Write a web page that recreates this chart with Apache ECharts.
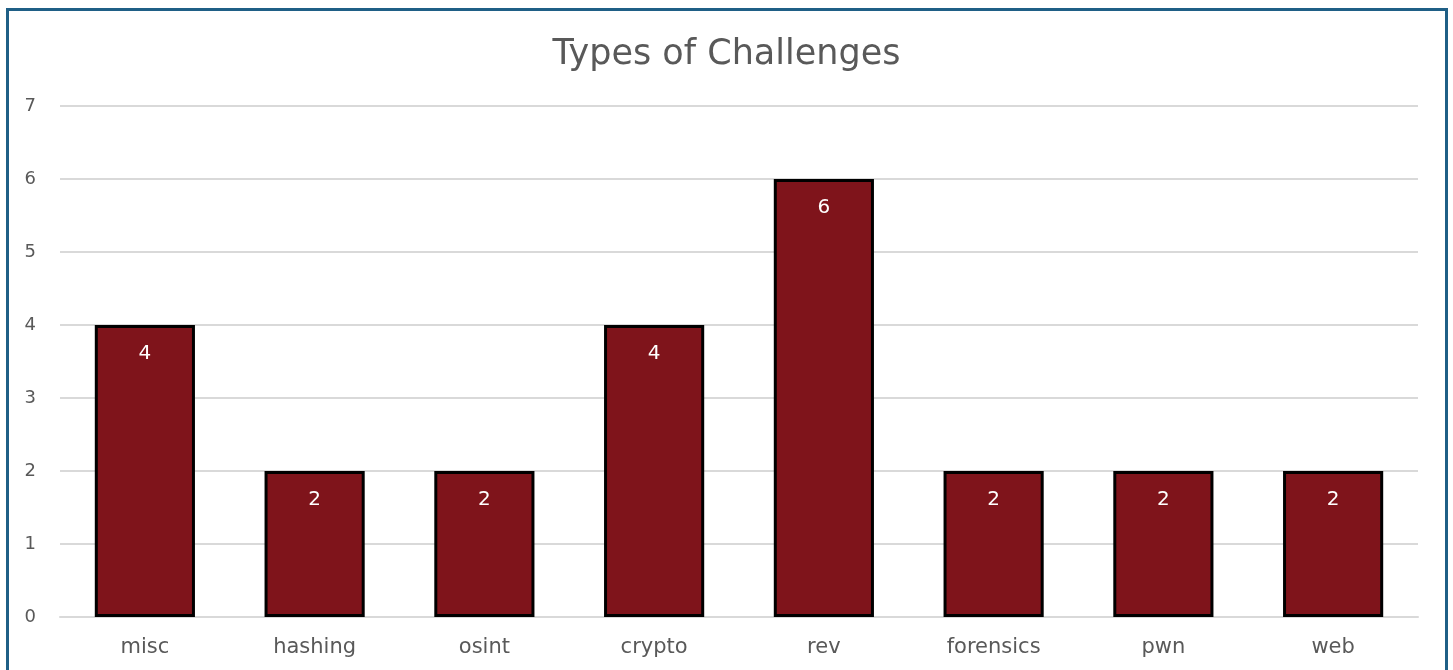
<!DOCTYPE html>
<html><head><meta charset="utf-8">
<script src="https://cdn.jsdelivr.net/npm/echarts@6/dist/echarts.min.js"></script>
<style>html,body{margin:0;padding:0;background:#fff}#c{width:1453px;height:670px}</style>
</head><body><div id="c"></div>
<script>
const categories = ['misc','hashing','osint','crypto','rev','forensics','pwn','web'];
const values = [4,2,2,4,6,2,2,2];
const yTicks = [0,1,2,3,4,5,6,7];
const font = 'DejaVu Sans';
const chart = echarts.init(document.getElementById('c'));
chart.setOption({
  animation:false,
  backgroundColor:'#ffffff',
  title:{text:'Types of Challenges',left:'center',top:32,
    textStyle:{fontFamily:font,fontSize:35,fontWeight:'normal',color:'#595959'}},
  graphic:[{type:'rect',shape:{x:7.5,y:9.5,width:1439,height:720},
    style:{fill:'none',stroke:'#1f5f86',lineWidth:3},silent:true,z:100}],
  grid:{left:60,right:35,top:106,bottom:53,containLabel:false},
  xAxis:{type:'category',data:categories,
    axisLine:{lineStyle:{color:'#d9d9d9',width:2}},axisTick:{show:false},
    axisLabel:{fontFamily:font,fontSize:21,color:'#595959',margin:20}},
  yAxis:{type:'value',min:yTicks[0],max:yTicks[yTicks.length-1],interval:1,
    axisLine:{show:false},axisTick:{show:false},
    splitLine:{lineStyle:{color:'#d9d9d9',width:2}},
    axisLabel:{fontFamily:font,fontSize:18,color:'#595959',margin:24}},
  series:[{type:'bar',data:values,barWidth:'59%',
    itemStyle:{color:'#7f141b',borderColor:'#000000',borderWidth:3},
    label:{show:true,position:'insideTop',distance:19,fontFamily:font,fontSize:20,color:'#ffffff'}}]
});
</script></body></html>
